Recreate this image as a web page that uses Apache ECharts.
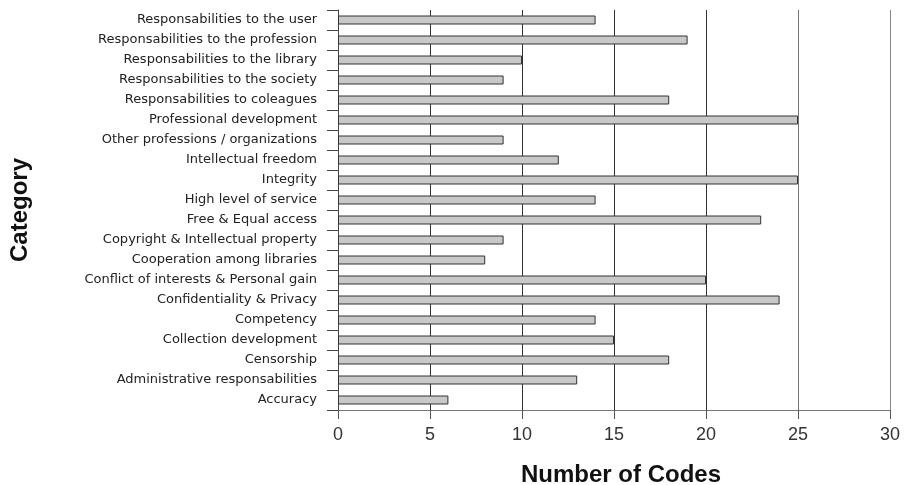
<!DOCTYPE html>
<html>
<head>
<meta charset="utf-8">
<script src="https://cdn.jsdelivr.net/npm/echarts@6/dist/echarts.min.js"></script>
<style>
html,body{margin:0;padding:0;background:#fff;}
#chart{width:904px;height:485px;}
</style>
</head>
<body>
<div id="chart"></div>
<script>
const categories = [
  "Responsabilities to the user",
  "Responsabilities to the profession",
  "Responsabilities to the library",
  "Responsabilities to the society",
  "Responsabilities to coleagues",
  "Professional development",
  "Other professions / organizations",
  "Intellectual freedom",
  "Integrity",
  "High level of service",
  "Free & Equal access",
  "Copyright & Intellectual property",
  "Cooperation among libraries",
  "Conflict of interests & Personal gain",
  "Confidentiality & Privacy",
  "Competency",
  "Collection development",
  "Censorship",
  "Administrative responsabilities",
  "Accuracy"
];
const codeCounts = [14, 19, 10, 9, 18, 25, 9, 12, 25, 14, 23, 9, 8, 20, 24, 14, 15, 18, 13, 6];
const xTicks = { min: 0, max: 30, interval: 5 };
const xTitle = 'Number of Codes';
const yTitle = 'Category';

const chart = echarts.init(document.getElementById('chart'), null, {renderer: 'canvas'});
chart.setOption({
  animation: false,
  backgroundColor: '#ffffff',
  grid: { left: 338, right: 14, top: 10, bottom: 75, containLabel: false, outerBoundsMode: 'none' },
  xAxis: {
    type: 'value',
    min: xTicks.min, max: xTicks.max, interval: xTicks.interval,
    name: xTitle,
    nameLocation: 'middle',
    nameGap: 53,
    nameTextStyle: { fontFamily: 'Liberation Sans', fontWeight: 'bold', fontSize: 24, color: '#111', padding: [0, 0, 0, 14] },
    axisLine: { show: true, lineStyle: { color: '#777', width: 1 } },
    axisTick: { show: true, length: 9, lineStyle: { color: '#555' } },
    axisLabel: { fontFamily: 'Liberation Sans', fontSize: 18, color: '#333', margin: 16 },
    splitLine: { show: true, lineStyle: { color: ['#333', '#333', '#333', '#333', '#333', '#777', '#888'], width: 1 } }
  },
  yAxis: {
    type: 'category',
    data: categories,
    inverse: true,
    name: yTitle,
    nameLocation: 'middle',
    nameGap: 306,
    nameRotate: 90,
    nameTextStyle: { fontFamily: 'Liberation Sans', fontWeight: 'bold', fontSize: 24, color: '#111' },
    axisLine: { show: true, lineStyle: { color: '#444', width: 1 } },
    axisTick: { show: true, length: 11, alignWithLabel: false, lineStyle: { color: '#444' } },
    axisLabel: { fontFamily: 'DejaVu Sans', fontSize: 13, color: '#222', margin: 21, interval: 0 },
    splitLine: { show: false }
  },
  series: [{
    type: 'bar',
    data: codeCounts,
    barWidth: 9,
    itemStyle: { color: '#c8c8c8', borderColor: '#333', borderWidth: 1 }
  }]
});
</script>
</body>
</html>
